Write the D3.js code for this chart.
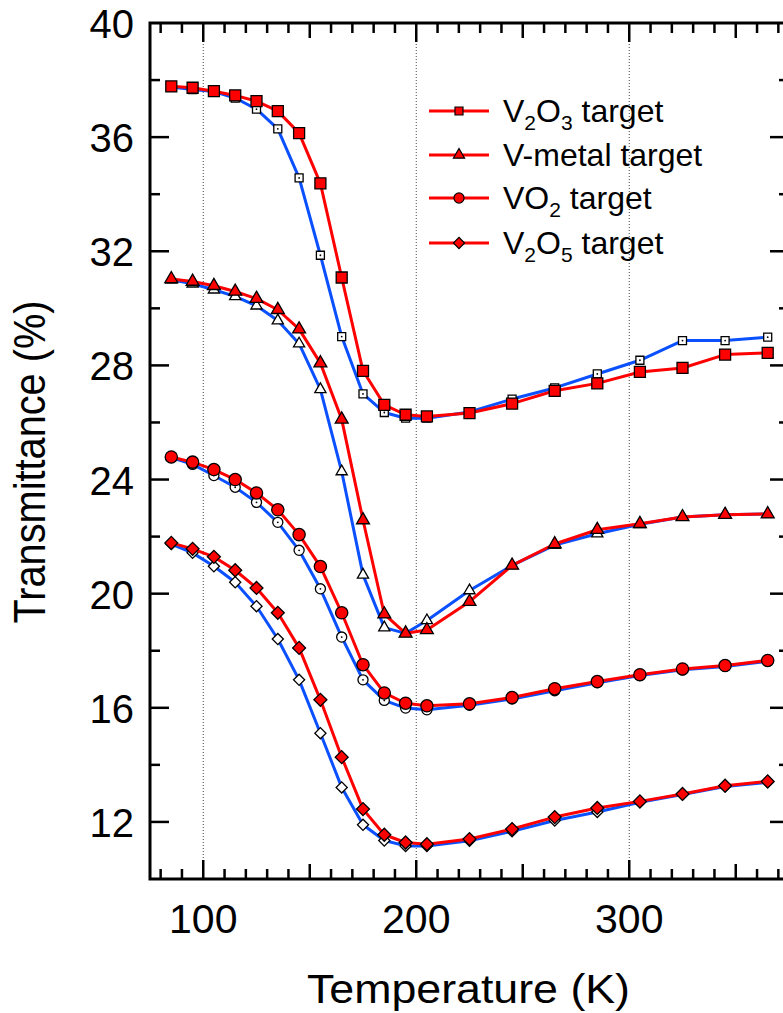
<!DOCTYPE html>
<html>
<head>
<meta charset="utf-8">
<script src="https://cdn.jsdelivr.net/npm/d3@7"></script>
<style>
  html, body { margin: 0; padding: 0; background: #fff; }
  svg { display: block; font-family: "Liberation Sans", Arial, Helvetica, sans-serif; }
</style>
</head>
<body>
<svg id="chart" width="783" height="1013"></svg>
<script>
// ---------------- data ----------------
const temps = [85,95,105,115,125,135,145,155,165,175,185,195,205,225,245,265,285,305,325,345,365];

const v2o3Heat = [37.78,37.73,37.61,37.46,37.26,36.91,36.14,34.38,31.08,27.81,26.62,26.27,26.21,26.33,26.66,27.11,27.37,27.77,27.91,28.38,28.44];
const v2o3Cool = [37.76,37.67,37.60,37.37,36.98,36.29,34.57,31.86,29.01,27.00,26.35,26.15,26.15,26.37,26.82,27.21,27.70,28.18,28.87,28.87,28.99];

const vmHeat = [31.03,30.94,30.79,30.59,30.34,29.95,29.27,28.08,26.11,22.58,19.28,18.61,18.73,19.72,20.99,21.74,22.24,22.45,22.69,22.77,22.79];
const vmCool = [31.00,30.86,30.65,30.42,30.09,29.57,28.76,27.16,24.28,20.66,18.81,18.61,19.06,20.11,20.99,21.70,22.10,22.43,22.69,22.77,22.79];

const vo2Heat = [24.79,24.61,24.35,24.00,23.53,22.94,22.07,20.95,19.33,17.51,16.52,16.16,16.07,16.14,16.36,16.67,16.92,17.16,17.36,17.48,17.66];
const vo2Cool = [24.77,24.53,24.14,23.73,23.20,22.50,21.52,20.17,18.48,16.98,16.26,15.99,15.93,16.09,16.31,16.60,16.88,17.13,17.33,17.45,17.63];

const v2o5Heat = [21.78,21.57,21.29,20.82,20.20,19.33,18.10,16.28,14.27,12.45,11.55,11.28,11.22,11.40,11.75,12.17,12.49,12.72,12.98,13.27,13.42];
const v2o5Cool = [21.74,21.43,20.96,20.40,19.56,18.41,16.98,15.11,13.21,11.90,11.35,11.16,11.16,11.34,11.67,12.05,12.35,12.69,12.96,13.24,13.39];

const xTickLabels = [100, 200, 300];
const yTickLabels = [12, 16, 20, 24, 28, 32, 36, 40];

const seriesNames = ["V2O3", "V-metal", "VO2", "V2O5"];
const legendParts = [
  [["V",""],["2","sub"],["O",""],["3","sub"],[" target",""]],
  [["V-metal target",""]],
  [["V",""],["O",""],["2","sub"],[" target",""]],
  [["V",""],["2","sub"],["O",""],["5","sub"],[" target",""]]
];
const shapes = ["square","triangle","circle","diamond"];
const heatData = [v2o3Heat, vmHeat, vo2Heat, v2o5Heat];
const coolData = [v2o3Cool, vmCool, vo2Cool, v2o5Cool];

// ---------------- layout ----------------
const svg = d3.select("#chart");
const L = 150, R = 789, T = 23, B = 879;
const x = d3.scaleLinear().domain([75, 375]).range([L, R]);
const y = d3.scaleLinear().domain([10, 40]).range([B, T]);

const RED = "#ff0000", BLUE = "#0a50ff";

svg.append("rect").attr("width", 783).attr("height", 1013).attr("fill", "#fff");

// dotted gridlines
svg.append("g").selectAll("line").data(xTickLabels).join("line")
  .attr("x1", d => x(d)).attr("x2", d => x(d))
  .attr("y1", T).attr("y2", B)
  .attr("stroke", "#444").attr("stroke-width", 1).attr("stroke-dasharray", "1,2");

// ticks
const xMinor = d3.range(80, 375, 10);
const yMinor = d3.range(12, 40, 2);
function xLen(v){ return v % 100 === 0 ? 19 : (v % 50 === 0 ? 15 : 10); }
function yLen(v){ return v % 4 === 0 ? 19 : 10; }

const tg = svg.append("g").attr("stroke", "#000").attr("stroke-width", 2.5);
// bottom & top
tg.selectAll(".xb").data(xMinor).join("line")
  .attr("x1", d => x(d)).attr("x2", d => x(d))
  .attr("y1", B).attr("y2", d => B - xLen(d));
tg.selectAll(".xt").data(xMinor).join("line")
  .attr("x1", d => x(d)).attr("x2", d => x(d))
  .attr("y1", T).attr("y2", d => T + xLen(d));
// left & right
tg.selectAll(".yl").data(yMinor).join("line")
  .attr("y1", d => y(d)).attr("y2", d => y(d))
  .attr("x1", L).attr("x2", d => L + yLen(d));
tg.selectAll(".yr").data(yMinor).join("line")
  .attr("y1", d => y(d)).attr("y2", d => y(d))
  .attr("x1", R).attr("x2", d => R - yLen(d));

// frame
svg.append("rect").attr("x", L).attr("y", T).attr("width", R - L).attr("height", B - T)
  .attr("fill", "none").attr("stroke", "#000").attr("stroke-width", 3);

// tick labels
svg.append("g").selectAll("text").data(xTickLabels).join("text")
  .attr("x", d => x(d)).attr("y", 933)
  .attr("text-anchor", "middle").attr("font-size", 41).text(d => d);
svg.append("g").selectAll("text").data(yTickLabels).join("text")
  .attr("x", 134).attr("y", d => y(d) + 15)
  .attr("text-anchor", "end").attr("font-size", 40).text(d => d);

// axis titles
svg.append("text").attr("x", 468.5).attr("y", 1003).attr("text-anchor", "middle")
  .attr("font-size", 40).attr("textLength", 323).attr("lengthAdjust", "spacingAndGlyphs")
  .text("Temperature (K)");
svg.append("text").attr("transform", "translate(45,462) rotate(-90)")
  .attr("text-anchor", "middle").attr("font-size", 44)
  .attr("textLength", 323).attr("lengthAdjust", "spacingAndGlyphs")
  .text("Transmittance (%)");

// markers
function symPath(shape, big) {
  if (shape === "square") return d3.symbol().type(d3.symbolSquare).size(big ? 121 : 64)();
  if (shape === "circle") return d3.symbol().type(d3.symbolCircle).size(big ? 118 : 80)();
  if (shape === "triangle") return d3.symbol().type(d3.symbolTriangle).size(big ? 72 : 54)();
  return d3.symbol().type(d3.symbolSquare).size(big ? 84 : 62)();
}
function symRot(shape){ return shape === "diamond" ? " rotate(45)" : ""; }

const line = d3.line().x(d => x(d[0])).y(d => y(d[1]));
const plot = svg.append("g");

function drawSeries(vals, color, shape, filled) {
  const pts = temps.map((t, i) => [t, vals[i]]);
  const g = plot.append("g");
  g.append("path").datum(pts).attr("d", line)
    .attr("fill", "none").attr("stroke", color).attr("stroke-width", 3)
    .attr("stroke-linejoin", "round");
  const m = g.selectAll("g.m").data(pts).join("g")
    .attr("transform", d => `translate(${x(d[0])},${y(d[1])})${symRot(shape)}`);
  m.append("path").attr("d", symPath(shape, filled))
    .attr("fill", filled ? RED : "#fff").attr("stroke", "#000").attr("stroke-width", 1.3);
  if (!filled && (shape === "square" || shape === "circle")) {
    m.append("circle").attr("r", 0.9).attr("fill", "#000");
  }
}

// cooling (blue, open) first, heating (red, filled) on top
coolData.forEach((vals, i) => drawSeries(vals, BLUE, shapes[i], false));
heatData.forEach((vals, i) => drawSeries(vals, RED, shapes[i], true));

// legend
const legY = [111, 155, 198, 243];
const leg = svg.append("g");
seriesNames.forEach((name, i) => {
  const yy = legY[i];
  leg.append("line").attr("x1", 429).attr("x2", 489).attr("y1", yy).attr("y2", yy)
    .attr("stroke", RED).attr("stroke-width", 3);
  leg.append("path").attr("d", symPath(shapes[i], false))
    .attr("transform", `translate(459,${yy})${symRot(shapes[i])}`)
    .attr("fill", RED).attr("stroke", "#000").attr("stroke-width", 1.2);
  const txt = leg.append("text").attr("x", 503).attr("y", yy + 11).attr("font-size", 32);
  let sub = false;
  legendParts[i].forEach(([s, kind]) => {
    const ts = txt.append("tspan").text(s);
    if (kind === "sub" && !sub) { ts.attr("dy", 8).attr("font-size", 21); sub = true; }
    else if (kind === "sub" && sub) { ts.attr("font-size", 21); }
    else if (kind !== "sub" && sub) { ts.attr("dy", -8); sub = false; }
  });
});
</script>
</body>
</html>
